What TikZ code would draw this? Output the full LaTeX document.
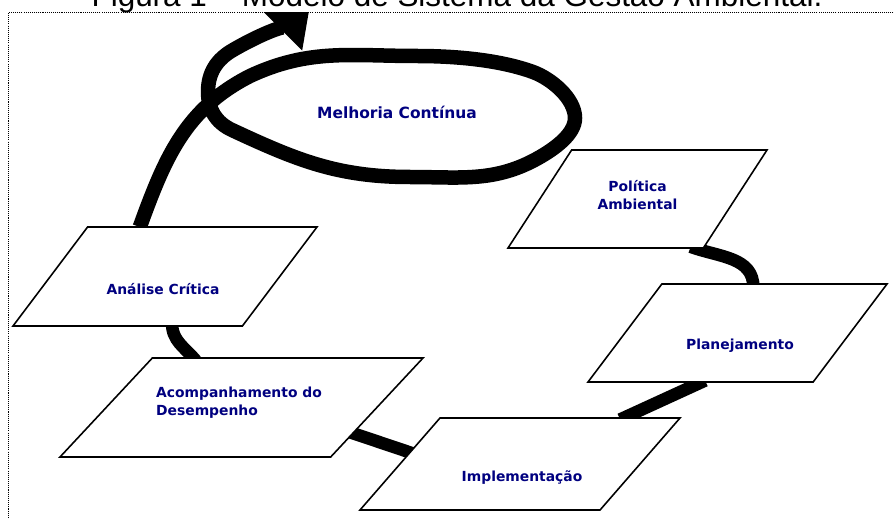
\documentclass[tikz,border=0pt]{standalone}
\usepackage{fontspec}
\setmainfont{Liberation Sans}
\newfontfamily\etapafont{DejaVu Sans}
\usepackage{tikz}
\usetikzlibrary{
	arrows.meta,
	shapes.geometric,
	backgrounds
}
\definecolor{azulescuro}{RGB}{0,0,128}
\newcommand{\altura}[1]{\rule{0pt}{#1}}
\tikzset{
	etapa/.style={trapezium, trapezium stretches body, draw=black, line width=0.9pt, fill=white, inner sep=0pt, outer sep=0pt},
	rotulo/.style={text=azulescuro, font=\etapafont\bfseries\fontsize{7.9}{10.2}\selectfont, align=center},
	elo/.style={line width=0.25cm, draw=black, shorten <=-2pt, shorten >=-2pt}
}

\begin{document}
\begin{tikzpicture}
			\useasboundingbox (0,0) rectangle (17.88,-10.34);
			\clip (0,0) rectangle (17.88,-10.34);

			\node[etapa, trapezium left angle=57, trapezium right angle=123, minimum width=5.18cm] (pol) at (12.75,-3.98) {\altura{1.96cm}};
			\node[etapa, trapezium left angle=53, trapezium right angle=127, minimum width=5.98cm] (pla) at (14.75,-6.66) {\altura{1.96cm}};
			\node[etapa, trapezium left angle=49, trapezium right angle=131, minimum width=6.4cm] (imp) at (10.4,-9.28) {\altura{1.84cm}};
			\node[etapa, trapezium left angle=47, trapezium right angle=133, minimum width=7.26cm] (aco) at (4.83,-8.15) {\altura{1.98cm}};
			\node[etapa, trapezium left angle=53, trapezium right angle=127, minimum width=6.08cm] (ana) at (3.3,-5.53) {\altura{1.98cm}};

			\node[rotulo] (pol-t) at ([yshift=0.08cm]pol.center) {Política\\Ambiental};
			\node[rotulo] (pla-t) at ([xshift=0.05cm,yshift=-0.26cm]pla.center) {Planejamento};
			\node[rotulo] (imp-t) at ([xshift=0.04cm,yshift=-0.28cm]imp.center) {Implementação};
			\node[rotulo, align=left] (aco-t) at ([xshift=-0.05cm,yshift=0.09cm]aco.center) {Acompanhamento do\\Desempenho};
			\node[rotulo] (ana-t) at ([xshift=-0.04cm,yshift=-0.25cm]ana.center) {Análise Crítica};
			\node[rotulo, font=\etapafont\bfseries\fontsize{8.8}{10}\selectfont] (mel) at (7.94,-2.24) {Melhoria Contínua};

			\coordinate (seta) at (6.22,0);

			\begin{pgfonlayer}{background}
				\draw[elo] (pol.-41) to[out=-20,in=90] (pla.72);
				\draw[elo] (pla.-126) -- (imp.24);
				\draw[elo] (imp.174) -- (aco.-13);
				\draw[elo] (aco.134) to[out=130,in=-90] (ana.-82);

				% espiral da melhoria continua
				\draw[line width=0.29cm, -{Triangle[length=0.84cm,width=1.12cm]}]
					(ana.117) to[out=70,in=207] (5.0,-1.52)
					to[out=25,in=180] (8.34,-1.12)
					to[out=0,in=160,looseness=0.8] (10.66,-1.44)
					to[out=-20,in=90,looseness=0.8] (11.5,-2.36)
					to[out=-90,in=30,looseness=0.8] (10.8,-3.14)
					to[out=210,in=0] (8.2,-3.54)
					to[out=180,in=-25] (4.64,-2.6)
					to[out=155,in=-90] (4.16,-1.84)
					to[out=90,in=210] (4.66,-1.0)
					to[out=30,in=225] (seta);
			\end{pgfonlayer}

			\fill[white] (0,0) rectangle (17.88,-0.246);
			\begin{scope}
				\clip (0,0) rectangle (17.88,-0.246);
				\node[font=\fontsize{17.9}{20}\selectfont, anchor=base, inner sep=0pt] (titulo) at (9.14,-0.13) {Figura 1 – Modelo de Sistema da Gestão Ambiental.};
			\end{scope}

			\draw[line width=0.55pt, dash pattern=on 0.6pt off 0.6pt] (18.5,-0.246) -- (0.166,-0.246) -- (0.166,-11);
		\end{tikzpicture}
\end{document}
